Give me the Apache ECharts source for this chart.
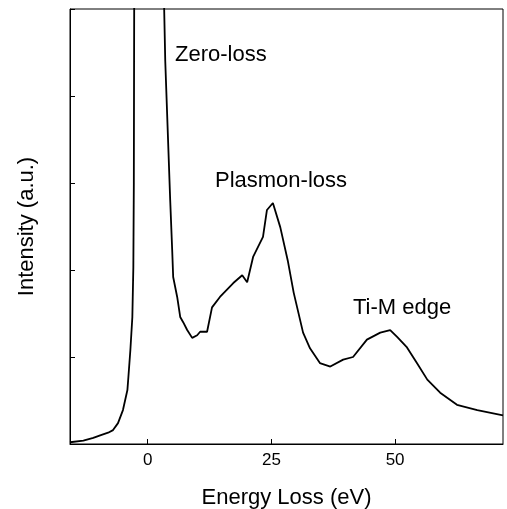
<!DOCTYPE html>
<html>
<head>
<meta charset="utf-8">
<script src="https://cdn.jsdelivr.net/npm/echarts@6/dist/echarts.min.js"></script>
<style>
html,body{margin:0;padding:0;background:#fff;}
#chart{width:507px;height:509px;}
</style>
</head>
<body>
<div id="chart"></div>
<script>
// Energy loss (eV)
var energy = [-15.7, -13, -11, -9.6, -8, -7, -6, -5, -4.1, -3.9, -3.5, -3.1, -2.9, -2.8, -2.73, 0,
  3.33, 3.55, 4.55, 4.95, 5.15, 5.96, 6.57, 7.17, 7.98, 8.99, 10.0, 10.6, 12.0, 13.0, 14.6, 17.3, 19.1, 20.1,
  21.3, 23.3, 24.1, 25.3, 26.8, 28.3, 29.5, 31.4, 32.8, 34.8, 36.9, 39.5, 41.5, 44.3, 47.0, 49.0,
  50.4, 52.4, 54.4, 56.5, 59.1, 62.5, 66.6, 71.8];
// Intensity (a.u.)
var intensity = [0.02, 0.04, 0.07, 0.10, 0.13, 0.16, 0.24, 0.39, 0.62, 0.77, 1.08, 1.46, 2.03, 3.0, 5.0, 60,
  5.0, 4.4, 2.80, 2.23, 1.92, 1.69, 1.46, 1.40, 1.31, 1.22, 1.25, 1.29, 1.29, 1.57, 1.69, 1.85, 1.94, 1.86,
  2.15, 2.38, 2.69, 2.77, 2.49, 2.11, 1.74, 1.28, 1.10, 0.93, 0.89, 0.97, 1.00, 1.20, 1.28, 1.31,
  1.23, 1.11, 0.93, 0.74, 0.59, 0.45, 0.39, 0.33];
var xTicks = [0, 25, 50];
var yTicks = [0, 1, 2, 3, 4, 5];
var annotations = ['Zero-loss', 'Plasmon-loss', 'Ti-M edge'];

var font = '"Liberation Sans", Arial, sans-serif';
var chart = echarts.init(document.getElementById('chart'), null, {renderer: 'canvas'});
var data = energy.map(function (e, i) { return [e, intensity[i]]; });

chart.setOption({
  animation: false,
  backgroundColor: '#fff',
  grid: {left: 70, right: 4, top: 9, bottom: 65, show: true, borderColor: '#000', borderWidth: 1,
         containLabel: false, outerBoundsMode: 'none'},
  xAxis: {
    type: 'value', min: -15.7, max: 71.8,
    axisLine: {show: true, onZero: false, lineStyle: {color: '#000', width: 1}},
    axisTick: {show: true, inside: true, length: 5, customValues: xTicks, lineStyle: {color: '#000'}},
    axisLabel: {show: true, customValues: xTicks, fontSize: 17, color: '#000', fontFamily: font, margin: 8},
    splitLine: {show: false},
    name: 'Energy Loss (eV)', nameLocation: 'middle', nameGap: 43,
    nameTextStyle: {fontSize: 22, color: '#000', fontFamily: font}
  },
  yAxis: {
    type: 'value', min: 0, max: 5,
    axisLine: {show: true, onZero: false, lineStyle: {color: '#000', width: 1}},
    axisTick: {show: true, inside: true, length: 5, customValues: yTicks, lineStyle: {color: '#000'}},
    axisLabel: {show: false},
    splitLine: {show: false},
    name: 'Intensity (a.u.)', nameLocation: 'middle', nameGap: 32,
    nameTextStyle: {fontSize: 22, color: '#000', fontFamily: font}
  },
  series: [{
    type: 'line', data: data, showSymbol: false, symbol: 'none', clip: true,
    lineStyle: {color: '#000', width: 1.8}
  }],
  graphic: [
    {type: 'text', left: 175, top: 44, style: {text: annotations[0], fontSize: 22, fill: '#000', fontFamily: font}},
    {type: 'text', left: 215, top: 170, style: {text: annotations[1], fontSize: 22, fill: '#000', fontFamily: font}},
    {type: 'text', left: 353, top: 297, style: {text: annotations[2], fontSize: 22, fill: '#000', fontFamily: font}}
  ]
});
</script>
</body>
</html>
